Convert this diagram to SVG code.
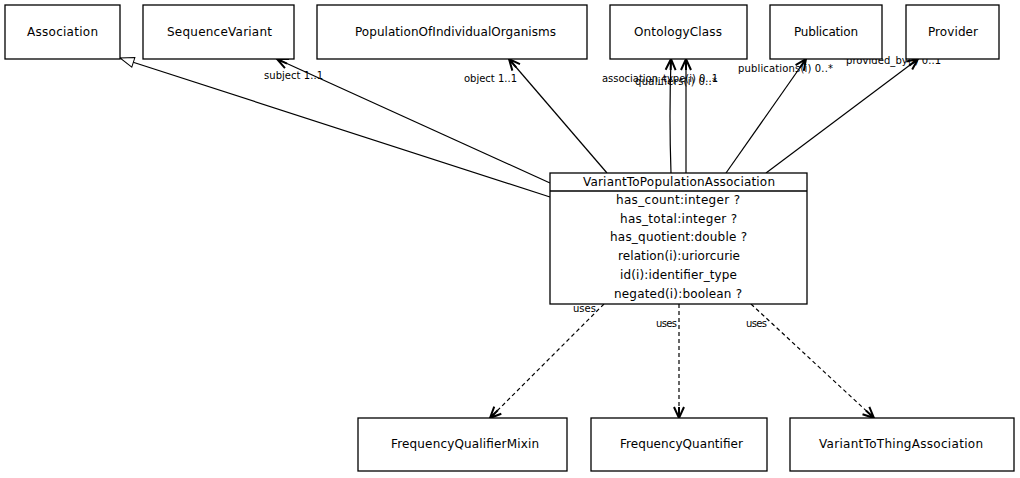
<svg xmlns="http://www.w3.org/2000/svg" width="1020" height="478" viewBox="0 0 1020 478">
<style>
.box{fill:#fff;stroke:#000;stroke-width:1.3}
.t{font-family:"DejaVu Sans",sans-serif;font-size:12px;fill:#000}
.a{font-family:"DejaVu Sans",sans-serif;font-size:12px;fill:#000}
.l{font-family:"DejaVu Sans",sans-serif;font-size:10px;fill:#000}
.e{fill:none;stroke:#000;stroke-width:1.2}
.d{fill:none;stroke:#000;stroke-width:1.2;stroke-dasharray:4,3}
</style>
<defs>
<marker id="open" markerWidth="14" markerHeight="14" refX="12" refY="6" orient="auto" markerUnits="userSpaceOnUse" viewBox="0 0 14 12">
<path d="M1,1 L12,6 L1,11 M12,6 L1,6" fill="none" stroke="#000" stroke-width="2"/>
</marker>
<marker id="tri" markerWidth="16" markerHeight="12" refX="15" refY="6" orient="auto" markerUnits="userSpaceOnUse" viewBox="0 0 16 12">
<path d="M1,1 L15,6 L1,11 Z" fill="#fff" stroke="#000" stroke-width="1"/>
</marker>
</defs>
<g id="connectors">
<path class="e" d="M550,197 L120,58" marker-end="url(#tri)"/>
<path class="e" d="M550,183 L277,59" marker-end="url(#open)"/>
<path class="e" d="M607,173 L509,59" marker-end="url(#open)"/>
<path class="e" d="M671,173 Q669,116 671,59" marker-end="url(#open)"/>
<path class="e" d="M686,173 L686,59" marker-end="url(#open)"/>
<path class="e" d="M726,173 L806,59" marker-end="url(#open)"/>
<path class="e" d="M766,173 L918,59" marker-end="url(#open)"/>
<path class="d" d="M604,304 L490,418" marker-end="url(#open)"/>
<path class="d" d="M679,304 L679,418" marker-end="url(#open)"/>
<path class="d" d="M751,304 L874,418" marker-end="url(#open)"/>
<text class="l" x="264" y="79" textLength="59" lengthAdjust="spacing">subject 1..1</text>
<text class="l" x="464" y="82" textLength="53" lengthAdjust="spacing">object 1..1</text>
<text class="l" x="602" y="82" textLength="116" lengthAdjust="spacing">association_type(i) 0..1</text>
<text class="l" x="635" y="85" textLength="82" lengthAdjust="spacing">qualifiers(i) 0..*</text>
<text class="l" x="738" y="72" textLength="95" lengthAdjust="spacing">publications(i) 0..*</text>
<text class="l" x="846" y="64" textLength="95" lengthAdjust="spacing">provided_by(i) 0..1</text>
<text class="l" x="573" y="312" textLength="23" lengthAdjust="spacing">uses</text>
<text class="l" x="656" y="327" textLength="21" lengthAdjust="spacing">uses</text>
<text class="l" x="746" y="327" textLength="21" lengthAdjust="spacing">uses</text>
</g>
<g id="Association"><rect class="box" x="5" y="5" width="115" height="54"/><text class="t" x="27" y="36" textLength="71" lengthAdjust="spacing">Association</text></g>
<g id="SequenceVariant"><rect class="box" x="143" y="5" width="151" height="54"/><text class="t" x="167" y="36" textLength="105" lengthAdjust="spacing">SequenceVariant</text></g>
<g id="PopulationOfIndividualOrganisms"><rect class="box" x="317" y="5" width="270" height="54"/><text class="t" x="355" y="36" textLength="201" lengthAdjust="spacing">PopulationOfIndividualOrganisms</text></g>
<g id="OntologyClass"><rect class="box" x="610" y="5" width="137" height="54"/><text class="t" x="634" y="36" textLength="88" lengthAdjust="spacing">OntologyClass</text></g>
<g id="Publication"><rect class="box" x="770" y="5" width="112" height="54"/><text class="t" x="794" y="36" textLength="64" lengthAdjust="spacing">Publication</text></g>
<g id="Provider"><rect class="box" x="906" y="5" width="93" height="54"/><text class="t" x="928" y="36" textLength="50" lengthAdjust="spacing">Provider</text></g>
<g id="VariantToPopulationAssociation">
<rect class="box" x="550" y="173" width="257" height="131"/>
<line x1="550" y1="191" x2="807" y2="191" stroke="#000" stroke-width="1.3"/>
<text class="t" x="583" y="186" textLength="192" lengthAdjust="spacing">VariantToPopulationAssociation</text>
<text class="a" x="616" y="204" textLength="124" lengthAdjust="spacing">has_count:integer ?</text>
<text class="a" x="620" y="223" textLength="117" lengthAdjust="spacing">has_total:integer ?</text>
<text class="a" x="610" y="241" textLength="137" lengthAdjust="spacing">has_quotient:double ?</text>
<text class="a" x="618" y="260" textLength="122" lengthAdjust="spacing">relation(i):uriorcurie</text>
<text class="a" x="620" y="279" textLength="117" lengthAdjust="spacing">id(i):identifier_type</text>
<text class="a" x="614" y="298" textLength="128" lengthAdjust="spacing">negated(i):boolean ?</text>
</g>
<g id="FrequencyQualifierMixin"><rect class="box" x="358" y="418" width="209" height="53"/><text class="t" x="391" y="448" textLength="148" lengthAdjust="spacing">FrequencyQualifierMixin</text></g>
<g id="FrequencyQuantifier"><rect class="box" x="591" y="418" width="176" height="53"/><text class="t" x="620" y="448" textLength="123" lengthAdjust="spacing">FrequencyQuantifier</text></g>
<g id="VariantToThingAssociation"><rect class="box" x="790" y="418" width="224" height="53"/><text class="t" x="819" y="448" textLength="164" lengthAdjust="spacing">VariantToThingAssociation</text></g>
</svg>
